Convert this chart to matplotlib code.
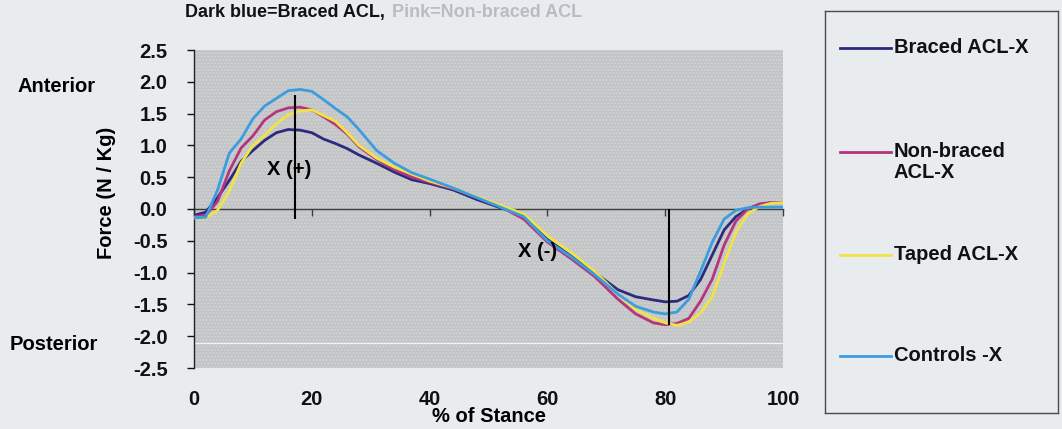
import matplotlib
matplotlib.use("Agg")
import matplotlib.pyplot as plt
from matplotlib.lines import Line2D
from matplotlib.patches import Rectangle

plt.rcParams['font.family'] = ['Liberation Sans', 'DejaVu Sans']
plt.rcParams['font.weight'] = 'bold'
plt.rcParams['hatch.linewidth'] = 1.0

# % of stance phase
stance_pct = [0, 2, 4, 6, 8, 10, 12, 14, 16, 18, 20, 22, 24, 26, 28, 31, 34, 37, 40,
              44, 48, 52, 56, 60, 64, 68, 72, 75, 78, 80, 82, 84, 86, 88, 90, 92,
              94, 96, 98, 100]

# Anterior/posterior shear force (N / Kg)
braced = [-0.10, -0.05, 0.18, 0.45, 0.75, 0.92, 1.08, 1.20, 1.25, 1.24, 1.20, 1.10,
          1.03, 0.95, 0.85, 0.72, 0.58, 0.46, 0.40, 0.30, 0.15, 0.02, -0.10, -0.48,
          -0.74, -1.00, -1.27, -1.38, -1.43, -1.46, -1.45, -1.36, -1.11, -0.72,
          -0.33, -0.12, 0.00, 0.07, 0.10, 0.10]
non_braced = [-0.12, -0.10, 0.12, 0.60, 0.96, 1.15, 1.40, 1.53, 1.59, 1.60, 1.56,
              1.45, 1.33, 1.18, 0.98, 0.78, 0.62, 0.50, 0.42, 0.32, 0.18, 0.04,
              -0.16, -0.52, -0.78, -1.06, -1.42, -1.65, -1.79, -1.82, -1.80, -1.72,
              -1.45, -1.10, -0.57, -0.19, 0.00, 0.08, 0.10, 0.10]
taped = [-0.14, -0.14, -0.02, 0.28, 0.72, 1.00, 1.16, 1.34, 1.48, 1.54, 1.56, 1.47,
         1.38, 1.20, 1.00, 0.80, 0.66, 0.55, 0.44, 0.33, 0.19, 0.06, -0.08, -0.42,
         -0.68, -0.98, -1.34, -1.58, -1.72, -1.79, -1.83, -1.78, -1.64, -1.38,
         -0.86, -0.37, -0.08, 0.04, 0.09, 0.10]
controls = [-0.14, -0.13, 0.30, 0.88, 1.10, 1.42, 1.62, 1.74, 1.86, 1.88, 1.85, 1.72,
            1.58, 1.45, 1.25, 0.92, 0.72, 0.57, 0.47, 0.33, 0.18, 0.03, -0.12, -0.50,
            -0.75, -1.03, -1.34, -1.53, -1.62, -1.65, -1.62, -1.42, -0.98, -0.52,
            -0.16, -0.02, 0.02, 0.03, 0.03, 0.03]

series_labels = ['Braced ACL-X', 'Non-braced\nACL-X', 'Taped ACL-X', 'Controls -X']
series_values = [braced, non_braced, taped, controls]
series_colors = ['#2c2a7e', '#b5357d', '#f0e444', '#3a9de0']

x_ticks = [0, 20, 40, 60, 80, 100]
y_ticks = [2.5, 2.0, 1.5, 1.0, 0.5, 0.0, -0.5, -1.0, -1.5, -2.0, -2.5]

peak_pos_x, peak_pos_top = 17.1, 1.80
peak_neg_x, peak_neg_bottom = 80.7, -1.83

FS = 14.5
page = '#e9ecef'
W, H = 1062, 429
fig = plt.figure(figsize=(W / 100, H / 100), dpi=100, facecolor=page)

ax_l, ax_r, ax_t, ax_b = 194, 783, 50, 368
ax = fig.add_axes([ax_l / W, 1 - ax_b / H, (ax_r - ax_l) / W, (ax_b - ax_t) / H])
ax.set_facecolor('#c2c3c5')
ax.add_patch(Rectangle((0, 0), 1, 1, transform=ax.transAxes, facecolor='none',
                       edgecolor='#d3d4d6', hatch='.....', lw=0, zorder=0))
ax.set_xlim(0, 100)
ax.set_ylim(-2.5, 2.5)

for vals, col in zip(series_values, series_colors):
    ax.plot(stance_pct, vals, color=col, lw=2.0, solid_capstyle='round', zorder=3)

# faint white band near the bottom of the plot area
ax.axhline(-2.1, color='#f2f2f2', lw=1.0, zorder=1)

# peak markers
ax.vlines(peak_pos_x, -0.15, peak_pos_top, color='black', lw=1.5, zorder=4)
ax.vlines(peak_neg_x, 0.0, peak_neg_bottom, color='black', lw=1.5, zorder=4)
ax.text(12.4, 0.62, 'X (+)', fontsize=FS, fontweight='bold', va='center', zorder=5)
ax.text(55.0, -0.67, 'X (-)', fontsize=FS, fontweight='bold', va='center', zorder=5)

# spines: y axis at left, x axis through zero
for side in ('top', 'right'):
    ax.spines[side].set_visible(False)
ax.spines['left'].set_color('#222222')
ax.spines['left'].set_linewidth(1.0)
ax.spines['bottom'].set_position(('data', 0))
ax.spines['bottom'].set_color('#3c3c3c')
ax.spines['bottom'].set_linewidth(1.0)
ax.spines['bottom'].set_zorder(2)

ax.set_yticks(y_ticks)
ax.set_yticklabels([f'{v:.1f}' for v in y_ticks])
ax.tick_params(axis='y', direction='out', length=5, width=1, pad=14,
               labelsize=FS, colors='#111111')
ax.set_xticks(x_ticks)
ax.set_xticklabels([])
ax.tick_params(axis='x', direction='out', length=5, width=1, color='#3c3c3c')

# tick labels sit below the plot area
sec = ax.secondary_xaxis(-0.068)
sec.set_xticks(x_ticks)
sec.set_xticklabels([str(v) for v in x_ticks])
sec.tick_params(length=0, labelsize=FS, pad=0, colors='#111111')
sec.spines['bottom'].set_visible(False)
sec.set_xlabel('% of Stance', fontsize=FS, fontweight='bold', labelpad=-1)

ax.set_ylabel('Force (N / Kg)', fontsize=FS, fontweight='bold', va='center')
ax.yaxis.set_label_coords(-0.148, 0.55)

fig.text(18 / W, 1 - 86 / H, 'Anterior', fontsize=FS, fontweight='bold',
         va='center', ha='left')
fig.text(10 / W, 1 - 345 / H, 'Posterior', fontsize=FS, fontweight='bold',
         va='center', ha='left')

# title line (top of page)
fig.text(185 / W, 1 - 17 / H, 'Dark blue=Braced ACL,', fontsize=13,
         fontweight='bold', va='baseline', ha='left', color='#111111')
fig.text(392 / W, 1 - 17 / H, 'Pink=Non-braced ACL', fontsize=13,
         fontweight='bold', va='baseline', ha='left', color='#b9bcc0')

# legend box
leg = fig.add_axes([825 / W, 1 - 413 / H, (1058 - 825) / W, (413 - 11) / H])
leg.set_xlim(825, 1058)
leg.set_ylim(413, 11)
leg.set_facecolor(page)
leg.set_xticks([])
leg.set_yticks([])
for s in leg.spines.values():
    s.set_color('#4a4a4a')
    s.set_linewidth(1.0)
entry_y = [48, 152, 255, 356]
for lab, col, yy in zip(series_labels, series_colors, entry_y):
    leg.add_line(Line2D([840, 891], [yy, yy], color=col, lw=2.0))
    leg.text(894, yy - 10, lab, fontsize=FS, fontweight='bold', va='top',
             ha='left', color='#111111', linespacing=1.15)

fig.savefig('out.png', dpi=100, facecolor=page)
